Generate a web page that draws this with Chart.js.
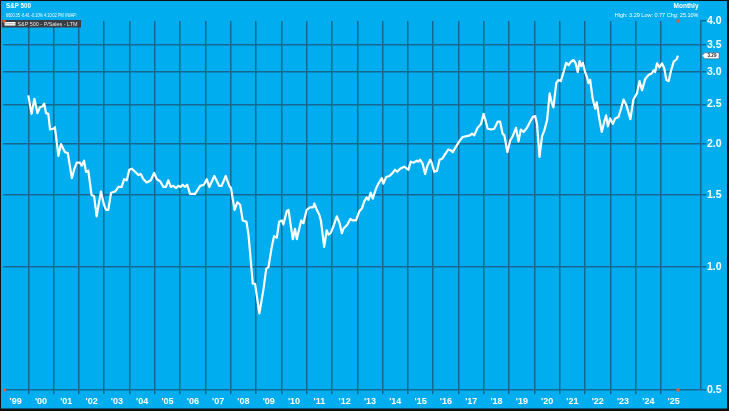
<!DOCTYPE html>
<html>
<head>
<meta charset="utf-8">
<script src="https://cdn.jsdelivr.net/npm/chart.js@4.4.0/dist/chart.umd.min.js"></script>
<style>
  html, body { margin: 0; padding: 0; background: #00aeef; overflow: hidden; }
  #c { display: block; }
</style>
</head>
<body>
<canvas id="c" width="729" height="411"></canvas>
<script>
// ---- data ----
const dates = [
  2000.00,2000.13,2000.24,2000.36,2000.46,2000.55,2000.63,2000.70,2000.79,2000.86,
  2001.00,2001.05,2001.19,2001.29,2001.45,2001.56,2001.72,2001.81,2001.91,
  2002.04,2002.11,2002.20,2002.28,2002.37,2002.50,2002.60,2002.70,2002.87,2002.99,
  2003.07,2003.16,2003.27,2003.43,2003.56,2003.69,2003.78,2003.89,2003.99,
  2004.09,2004.22,2004.35,2004.44,2004.55,2004.68,2004.84,2004.97,
  2005.08,2005.21,2005.34,2005.44,2005.53,2005.63,2005.73,2005.84,2005.93,
  2006.02,2006.10,2006.19,2006.28,2006.39,2006.59,2006.79,2006.94,
  2007.05,2007.15,2007.35,2007.54,2007.64,2007.80,2007.94,
  2008.01,2008.15,2008.26,2008.37,2008.47,2008.62,2008.70,2008.87,2008.96,
  2009.13,2009.29,2009.40,2009.49,2009.62,2009.71,2009.82,2009.91,
  2010.02,2010.08,2010.21,2010.28,2010.45,2010.54,2010.61,2010.78,2010.87,
  2011.00,2011.13,2011.26,2011.30,2011.40,2011.50,2011.56,2011.69,2011.79,2011.86,2011.95,
  2012.06,2012.19,2012.30,2012.39,2012.45,2012.61,2012.72,2012.82,2012.95,
  2013.08,2013.18,2013.28,2013.37,2013.44,2013.53,2013.61,2013.73,2013.83,2013.97,
  2014.03,2014.14,2014.27,2014.40,2014.49,2014.58,2014.69,2014.85,
  2015.02,2015.11,2015.22,2015.35,2015.41,2015.48,2015.58,2015.68,2015.77,2015.88,2015.94,
  2016.04,2016.15,2016.25,2016.35,2016.47,2016.60,2016.69,2016.77,2016.90,
  2017.03,2017.16,2017.32,2017.45,2017.53,2017.62,2017.75,2017.89,2017.99,
  2018.06,2018.15,2018.28,2018.41,2018.55,2018.64,2018.74,2018.81,2018.93,
  2019.04,2019.14,2019.27,2019.37,2019.46,2019.57,2019.70,2019.83,2019.94,
  2020.03,2020.10,2020.20,2020.30,2020.39,2020.50,2020.60,2020.69,2020.75,2020.86,2020.95,
  2021.04,2021.15,2021.25,2021.35,2021.44,2021.55,2021.62,2021.71,2021.78,2021.85,2021.91,
  2022.00,2022.07,2022.13,2022.20,2022.30,2022.40,2022.46,2022.56,2022.66,2022.76,2022.83,2022.90,2022.99,
  2023.10,2023.19,2023.32,2023.42,2023.52,2023.63,2023.79,2023.91,
  2024.05,2024.15,2024.25,2024.38,2024.51,2024.64,2024.71,2024.77,2024.84,2024.94,
  2025.04,2025.13,2025.21,2025.30,2025.40,2025.50,2025.61,2025.67
];
const ratio = [
  2.63,2.37,2.58,2.38,2.46,2.47,2.51,2.38,2.37,2.17,
  2.18,2.20,1.87,2.00,1.91,1.90,1.65,1.73,1.80,
  1.80,1.77,1.82,1.71,1.72,1.50,1.49,1.33,1.53,1.42,
  1.38,1.38,1.52,1.53,1.57,1.57,1.64,1.63,1.73,
  1.74,1.71,1.68,1.69,1.64,1.61,1.63,1.70,
  1.64,1.62,1.57,1.57,1.63,1.57,1.58,1.56,1.58,
  1.57,1.59,1.57,1.59,1.51,1.51,1.58,1.59,
  1.64,1.57,1.67,1.58,1.58,1.67,1.58,
  1.56,1.38,1.44,1.42,1.30,1.29,1.20,0.91,0.91,
  0.77,0.88,0.99,1.00,1.12,1.19,1.18,1.29,
  1.30,1.27,1.37,1.38,1.17,1.24,1.17,1.30,1.28,
  1.38,1.40,1.40,1.43,1.38,1.34,1.30,1.12,1.23,1.20,1.21,
  1.26,1.33,1.28,1.21,1.24,1.27,1.31,1.30,1.30,
  1.37,1.39,1.45,1.48,1.46,1.52,1.47,1.55,1.60,1.65,
  1.60,1.66,1.67,1.70,1.73,1.71,1.74,1.76,
  1.73,1.81,1.80,1.82,1.81,1.83,1.79,1.69,1.77,1.83,1.80,
  1.71,1.72,1.83,1.84,1.89,1.94,1.93,1.91,1.97,
  2.03,2.08,2.09,2.10,2.12,2.10,2.19,2.24,2.37,
  2.29,2.18,2.17,2.18,2.27,2.27,2.12,2.10,1.91,
  2.04,2.09,2.19,2.03,2.17,2.14,2.19,2.27,2.33,
  2.34,2.24,1.86,2.09,2.16,2.29,2.66,2.51,2.46,2.82,2.87,
  2.85,3.00,3.16,3.12,3.18,3.21,3.16,3.00,3.19,3.10,3.16,
  3.00,2.92,2.82,2.87,2.58,2.44,2.53,2.31,2.14,2.27,2.35,2.21,2.31,
  2.24,2.31,2.33,2.44,2.57,2.49,2.30,2.57,
  2.66,2.85,2.71,2.89,2.95,2.98,3.03,3.00,3.15,3.08,
  3.15,3.06,2.87,2.85,3.03,3.18,3.22,3.29
];
const yearStart = 1999;
const yearLabels = ["'99","'00","'01","'02","'03","'04","'05","'06","'07","'08","'09","'10","'11","'12",
                    "'13","'14","'15","'16","'17","'18","'19","'20","'21","'22","'23","'24","'25"];
const yTickValues = [0.5, 1.0, 1.5, 2.0, 2.5, 3.0, 3.5, 4.0];
const titleText = "S&P 500";
const infoText = "6600.35 -6.41 -0.10% 4:10:02 PM VWAP:";
const periodText = "Monthly";
const statsText = "High: 3.29 Low: 0.77 Chg: 25.10%";
const legendText = "S&P 500 - P/Sales - LTM";

// ---- styles ----
const BG = '#00aeef';
const GRID = '#17678f';
const FONT = '"Liberation Sans", Arial, sans-serif';

const points = dates.map((d, i) => ({ x: d, y: ratio[i] }));

const deco = {
  id: 'deco',
  beforeDraw(chart) {
    const c = chart.ctx;
    c.save();
    c.fillStyle = BG;
    c.fillRect(0, 0, chart.width, chart.height);
    c.restore();
  },
  afterDraw(chart) {
    const c = chart.ctx, xs = chart.scales.x, ys = chart.scales.y;
    c.save();
    // header texts
    c.fillStyle = '#ffffff';
    c.textBaseline = 'middle';
    c.textAlign = 'left';
    c.font = 'bold 6.5px ' + FONT;
    c.fillText(titleText, 6, 6.5, 25);
    c.font = '5.5px ' + FONT;
    c.fillText(infoText, 6, 15, 71);
    c.textAlign = 'right';
    c.font = 'bold 6.5px ' + FONT;
    c.fillText(periodText, 698.5, 6.5, 26);
    c.font = '5.5px ' + FONT;
    c.fillText(statsText, 698.5, 15, 86);

    // legend box
    c.fillStyle = '#3a3d44';
    c.fillRect(2, 20, 79, 7.5);
    c.fillStyle = '#ffffff';
    c.fillRect(4.5, 22, 11, 3.6);
    c.strokeStyle = '#777';
    c.lineWidth = 0.6;
    c.beginPath(); c.moveTo(4.5, 23.8); c.lineTo(15.5, 23.8); c.stroke();
    c.fillStyle = '#e8e8e8';
    c.textAlign = 'left';
    c.font = '6px ' + FONT;
    c.fillText(legendText, 17.5, 24, 60);
    c.fillStyle = '#f0592a';
    c.fillRect(2.5, 20, 3, 2.5);

    // orange range markers
    const xl = xs.getPixelForValue(dates[dates.length - 1]);
    c.fillStyle = '#f0592a';
    c.fillRect(xl - 1.5, ys.top - 1.5, 3, 3);
    c.fillRect(xl - 1.5, ys.bottom - 1.5, 3, 3);
    c.fillRect(xs.left, ys.bottom - 1.5, 3, 3);

    // last value tag
    const lastV = ratio[ratio.length - 1];
    const yl = ys.getPixelForValue(lastV);
    const x0 = ys.left + 1;
    c.fillStyle = '#ffffff';
    c.strokeStyle = '#555';
    c.lineWidth = 0.5;
    c.beginPath();
    c.moveTo(x0, yl);
    c.lineTo(x0 + 3, yl - 3);
    c.lineTo(x0 + 17, yl - 3);
    c.lineTo(x0 + 17, yl + 3);
    c.lineTo(x0 + 3, yl + 3);
    c.closePath();
    c.fill(); c.stroke();
    c.fillStyle = '#222';
    c.textAlign = 'center';
    c.font = 'bold 4.5px ' + FONT;
    c.fillText(lastV.toFixed(2), x0 + 10, yl + 0.3, 12);

    // outer frame
    c.fillStyle = '#101010';
    c.fillRect(0, 0, chart.width, 1);
    c.fillRect(0, 0, 1, chart.height);
    c.fillRect(chart.width - 2, 0, 2, chart.height);
    c.fillRect(0, chart.height - 2.5, chart.width, 2.5);
    c.restore();
  }
};

new Chart(document.getElementById('c'), {
  type: 'line',
  data: {
    datasets: [{
      label: legendText,
      data: points,
      borderColor: '#ffffff',
      borderWidth: 2.2,
      pointRadius: 0,
      tension: 0,
      borderJoinStyle: 'round',
      fill: false
    }]
  },
  options: {
    responsive: false,
    animation: false,
    devicePixelRatio: 1,
    layout: { padding: { left: 3, top: 21, right: 0, bottom: 0 } },
    plugins: { legend: { display: false }, tooltip: { enabled: false }, title: { display: false } },
    scales: {
      x: {
        type: 'linear',
        min: yearStart,
        max: 2026.58,
        afterBuildTicks(s) {
          const t = [];
          for (let i = 0; i < yearLabels.length; i++) {
            t.push({ value: yearStart + i });
            t.push({ value: yearStart + i + 0.5 });
          }
          s.ticks = t;
        },
        grid: {
          color: ctx => (ctx.tick && Number.isInteger(ctx.tick.value) && ctx.tick.value > yearStart) ? GRID : 'rgba(0,0,0,0)',
          tickColor: ctx => (ctx.tick && Number.isInteger(ctx.tick.value) && ctx.tick.value > yearStart) ? GRID : 'rgba(0,0,0,0)',
          lineWidth: 1.5,
          tickLength: 4,
          drawTicks: true
        },
        border: { display: false },
        ticks: {
          autoSkip: false,
          maxRotation: 0,
          minRotation: 0,
          padding: 2,
          color: '#ffffff',
          font: { family: FONT, weight: 'bold', size: 9 },
          callback(v) {
            if (Number.isInteger(v)) return '';
            const idx = Math.round(v - 0.5 - yearStart);
            return yearLabels[idx] || '';
          }
        },
        afterFit(s) { s.height = 21; }
      },
      y: {
        type: 'logarithmic',
        position: 'right',
        min: 0.5,
        max: 4.0,
        afterBuildTicks(s) { s.ticks = yTickValues.map(v => ({ value: v })); },
        grid: {
          color: ctx => (ctx.tick && ctx.tick.value === 4) ? 'rgba(0,0,0,0)' : GRID,
          tickColor: GRID,
          lineWidth: 1.5,
          tickLength: 5
        },
        border: { display: true, color: GRID, width: 1.5 },
        ticks: {
          padding: 1,
          color: '#ffffff',
          font: { family: FONT, weight: 'bold', size: 10.5 },
          callback: v => Number(v).toFixed(1)
        },
        afterFit(s) { s.width = 28; }
      }
    }
  },
  plugins: [deco]
});
</script>
</body>
</html>
